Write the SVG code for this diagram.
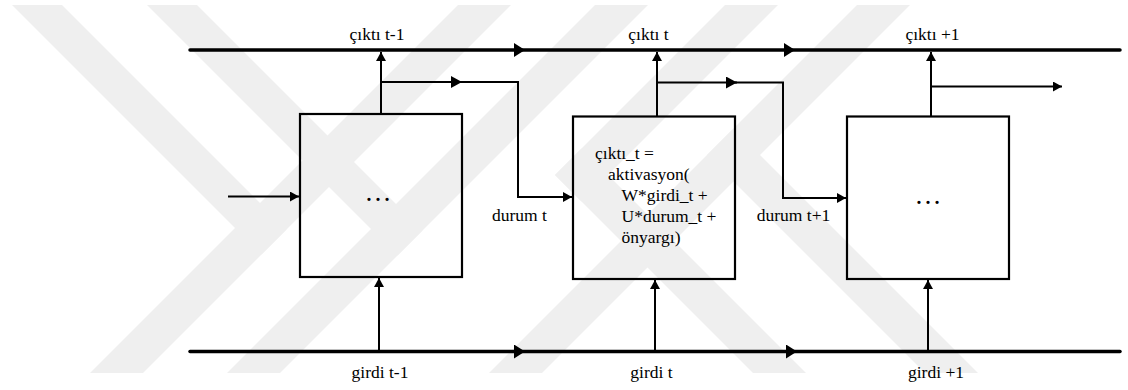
<svg xmlns="http://www.w3.org/2000/svg" width="1128" height="390" viewBox="0 0 1128 390">
  <style>
    .wm { fill: #efefef; stroke: none; }
    .bus { fill: none; stroke: #000; stroke-width: 3.5; stroke-linecap: round; }
    .ln { fill: none; stroke: #000; stroke-width: 2; }
    .box { fill: none; stroke: #000; stroke-width: 2.2; }
  </style>
  <defs>
    <marker id="big" markerUnits="userSpaceOnUse" markerWidth="11" markerHeight="14" viewBox="0 0 11 14" refX="11" refY="7" orient="auto">
      <path d="M0,0 L11,7 L0,14 z" fill="#000"/>
    </marker>
    <marker id="sm" markerUnits="userSpaceOnUse" markerWidth="9" markerHeight="10" viewBox="0 0 9 10" refX="9" refY="5" orient="auto">
      <path d="M0,0 L9,5 L0,10 z" fill="#000"/>
    </marker>
    <marker id="smMid" markerUnits="userSpaceOnUse" markerWidth="11" markerHeight="12" viewBox="0 0 11 12" refX="11" refY="6" orient="auto">
      <path d="M0,0 L11,6 L0,12 z" fill="#000"/>
    </marker>
  </defs>

  <rect x="0" y="0" width="1128" height="390" fill="#ffffff"/>

  <g id="watermark">
    <polygon class="wm" points="458,5 511,5 143,373 90,373"/>
    <polygon class="wm" points="595,5 648,5 280,373 227,373"/>
    <polygon class="wm" points="857,5 910,5 542,373 489,373"/>
    <polygon class="wm" points="12,5 62,5 286.5,229.5 261.5,254.5"/>
    <polygon class="wm" points="147,5 197,5 422.5,230.5 397.5,255.5"/>
    <polygon class="wm" points="725,5 778,5 581.5,201.5 555,175"/>
    <polygon class="wm" points="581.5,148.5 806,373 753,373 555,175"/>
    <polygon class="wm" points="707,155 733.5,128.5 978,373 925,373"/>
  </g>

  <g id="connectors">
    <path class="bus" d="M190,50 L525,50 L795,50 L1120,50" marker-mid="url(#big)"/>
    <path class="bus" d="M190,351.5 L525,351.5 L797,351.5 L1120,351.5" marker-mid="url(#big)"/>
    <path class="ln" d="M381,114 L381,52" marker-end="url(#sm)"/>
    <path class="ln" d="M381,82 L462,82" marker-end="url(#smMid)"/>
    <path class="ln" d="M460,82 L518,82 L518,197 L572,197" marker-end="url(#sm)"/>
    <path class="ln" d="M657,116 L657,52" marker-end="url(#sm)"/>
    <path class="ln" d="M657,82.5 L737,82.5" marker-end="url(#smMid)"/>
    <path class="ln" d="M735,82.5 L783,82.5 L783,198 L846,198" marker-end="url(#sm)"/>
    <path class="ln" d="M931,116 L931,52" marker-end="url(#sm)"/>
    <path class="ln" d="M931,86.5 L1062,86.5" marker-end="url(#sm)"/>
    <path class="ln" d="M379,350 L379,278" marker-end="url(#sm)"/>
    <path class="ln" d="M655,350 L655,280" marker-end="url(#sm)"/>
    <path class="ln" d="M928,350 L928,280" marker-end="url(#sm)"/>
    <path class="ln" d="M228,196.5 L299,196.5" marker-end="url(#sm)"/>
  </g>

  <g id="cell-1">
    <rect class="box" x="300" y="114" width="162" height="163"/>
    <text font-family="Liberation Serif" font-size="27" text-anchor="middle" x="378" y="201">…</text>
  </g>
  <g id="cell-2">
    <rect class="box" x="573" y="116.5" width="162" height="162.5"/>
    <g font-family="Liberation Serif" font-size="17.5" fill="#000">
      <text x="595" y="158.5">çıktı_t =</text>
      <text x="608" y="179.5">aktivasyon(</text>
      <text x="621.5" y="200.5">W*girdi_t +</text>
      <text x="621.5" y="221.5">U*durum_t +</text>
      <text x="621.5" y="242.5">önyargı)</text>
    </g>
  </g>
  <g id="cell-3">
    <rect class="box" x="847" y="116.5" width="162" height="162.5"/>
    <text font-family="Liberation Serif" font-size="27" text-anchor="middle" x="928" y="204">…</text>
  </g>

  <g id="labels" font-family="Liberation Serif" font-size="17.5" fill="#000" text-anchor="middle">
    <text x="377" y="40">çıktı t-1</text>
    <text x="648.5" y="40">çıktı t</text>
    <text x="932.5" y="40">çıktı +1</text>
    <text x="380" y="378">girdi t-1</text>
    <text x="651.5" y="378">girdi t</text>
    <text x="936" y="378">girdi +1</text>
    <text x="519.5" y="221">durum t</text>
    <text x="793.5" y="221">durum t+1</text>
  </g>
</svg>
